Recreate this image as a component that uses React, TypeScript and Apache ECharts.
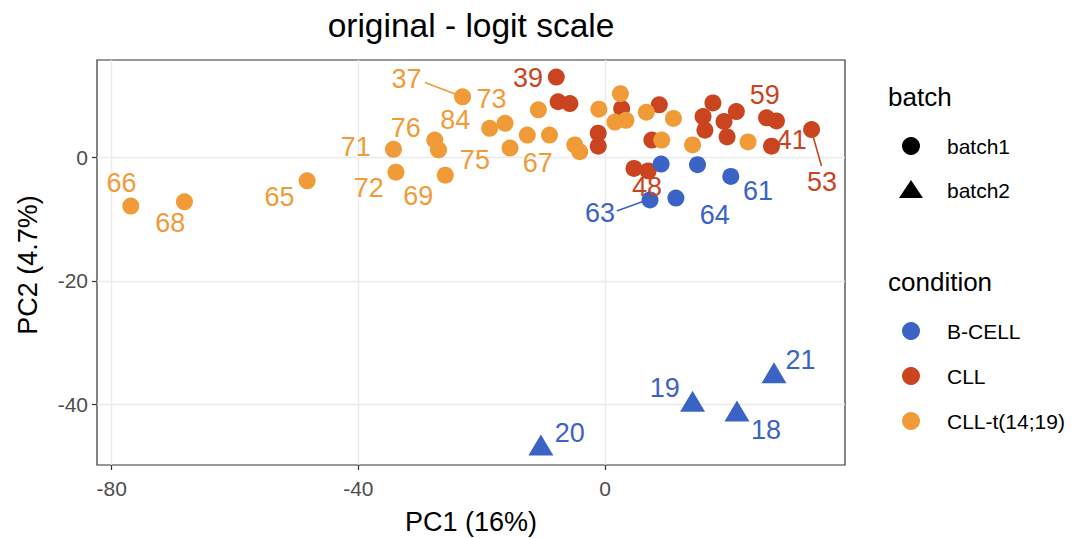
import { useEffect, useRef } from 'react';
import * as echarts from 'echarts';

// PCA scores (PC1, PC2) per condition and batch
const cllBatch1: [number, number][] = [
  [-7.9, 13.0], [-7.6, 9.0], [-5.7, 8.7], [-1.1, 3.9], [-1.1, 1.8],
  [2.7, 7.9], [8.8, 8.5], [7.6, 2.8], [17.5, 8.8], [15.9, 6.6],
  [16.2, 4.4], [19.3, 5.8], [19.8, 3.3], [21.3, 7.4], [26.2, 6.4],
  [27.8, 5.9], [27.0, 1.8], [33.5, 4.5], [4.7, -1.8], [7.0, -2.2],
];

const cllT1419Batch1: [number, number][] = [
  [-76.9, -7.9], [-68.2, -7.2], [-48.3, -3.8], [-34.3, 1.3], [-33.9, -2.4],
  [-27.6, 2.8], [-27.0, 1.2], [-25.9, -2.9], [-23.1, 9.8], [-18.7, 4.7],
  [-16.2, 5.5], [-15.4, 1.5], [-12.6, 3.6], [-10.8, 7.7], [-9.0, 3.6],
  [-4.9, 2.0], [-4.1, 0.9], [-1.0, 7.8], [2.5, 10.3], [1.6, 5.7],
  [3.4, 6.0], [6.7, 7.3], [11.1, 6.3], [9.2, 2.8], [14.2, 2.0],
  [23.2, 2.5],
];

const bCellBatch1: [number, number][] = [
  [9.1, -1.1], [15.0, -1.2], [20.4, -3.1], [11.5, -6.6], [7.3, -6.9],
];

const bCellBatch2: [number, number][] = [
  [-10.4, -46.6], [14.2, -39.5], [21.4, -41.1], [27.4, -34.9],
];

const conditions = ['B-CELL', 'CLL', 'CLL-t(14;19)'];
const conditionColors = ['#3b63c6', '#c9441f', '#f09b37'];
const batches = ['batch1', 'batch2'];

// Sample ids placed by the label repulsion: [id, PC1, PC2, condition index]
const sampleLabels: [string, number, number, number][] = [
  ['66', -78.4, -4.2, 2], ['68', -70.5, -10.7, 2], ['65', -52.8, -6.4, 2],
  ['71', -40.4, 1.6, 2], ['72', -38.3, -5.0, 2], ['76', -32.3, 4.8, 2],
  ['84', -24.3, 6.1, 2], ['73', -18.4, 9.4, 2], ['37', -32.2, 12.7, 2],
  ['75', -21.1, -0.4, 2], ['69', -30.3, -6.2, 2], ['67', -10.9, -0.9, 2],
  ['39', -12.5, 12.8, 1], ['48', 6.8, -4.8, 1], ['59', 25.9, 10.1, 1],
  ['41', 30.3, 2.8, 1], ['53', 35.2, -4.0, 1],
  ['63', -0.8, -9.0, 0], ['64', 17.8, -9.3, 0], ['61', 24.8, -5.4, 0],
  ['19', 9.7, -37.4, 0], ['20', -5.7, -44.6, 0], ['18', 26.1, -44.1, 0],
  ['21', 31.7, -32.8, 0],
];

// Leader segments from a label to its sample: [x1, y1, x2, y2, condition index]
const repelSegments: [number, number, number, number, number][] = [
  [-29.2, 12.1, -24.2, 10.2, 2],
  [33.8, 3.2, 35.1, -1.4, 1],
  [1.9, -8.7, 6.6, -7.0, 0],
];

const xTicks = [-80, -40, 0];
const yTicks = [0, -20, -40];
const xRange = [-82.38, 38.92];
const yRange = [-49.83, 15.76];

const FONT = '"Liberation Sans", Arial, Helvetica, sans-serif';

export default function App() {
  const ref = useRef<HTMLDivElement>(null);

  useEffect(() => {
    if (!ref.current) return;
    const chart = echarts.init(ref.current, undefined, { renderer: 'svg' });

    const gridLeft = 97;
    const gridTop = 60;
    const gridWidth = 748;
    const gridHeight = 405;
    const panelCx = gridLeft + gridWidth / 2;

    const pointSeries = (
      data: [number, number][],
      cond: number,
      symbol: string,
      size: number | number[],
    ) => ({
      type: 'scatter',
      data,
      symbol,
      symbolSize: size,
      itemStyle: { color: conditionColors[cond], opacity: 1 },
      z: 3,
      silent: true,
    });

    const segmentSeries = repelSegments.map(([x1, y1, x2, y2, c]) => ({
      type: 'line',
      data: [[x1, y1], [x2, y2]],
      showSymbol: false,
      symbol: 'none',
      lineStyle: { color: conditionColors[c], width: 1.6 },
      z: 4,
      silent: true,
    }));

    const legendX = 888;
    const keyX = 911;
    const textX = 947;
    const legendText = (text: string, y: number, size: number) => ({
      type: 'text',
      x: size > 22 ? legendX : textX,
      y,
      style: {
        text,
        fill: '#000',
        font: `${size}px ${FONT}`,
        textAlign: 'left',
        textVerticalAlign: 'middle',
      },
    });

    const axisBase = {
      type: 'value',
      axisLine: { show: false, onZero: false },
      splitLine: { show: false },
    };

    chart.setOption({
      animation: false,
      backgroundColor: '#fff',
      grid: {
        left: gridLeft,
        top: gridTop,
        width: gridWidth,
        height: gridHeight,
        show: true,
        borderColor: '#333',
        borderWidth: 1.2,
        backgroundColor: 'transparent',
      },
      xAxis: {
        ...axisBase,
        position: 'bottom',
        min: xRange[0],
        max: xRange[1],
        axisTick: { show: true, customValues: xTicks, length: 5, lineStyle: { color: '#333', width: 1.2 } },
        axisLabel: {
          customValues: xTicks,
          color: '#4d4d4d',
          fontSize: 21,
          fontFamily: FONT,
          margin: 13,
        },
      },
      yAxis: {
        ...axisBase,
        position: 'left',
        min: yRange[0],
        max: yRange[1],
        axisTick: { show: true, customValues: yTicks, length: 5, lineStyle: { color: '#333', width: 1.2 } },
        axisLabel: {
          customValues: yTicks,
          color: '#4d4d4d',
          fontSize: 21,
          fontFamily: FONT,
          margin: 9,
        },
      },
      graphic: [
        {
          type: 'text',
          x: panelCx,
          y: 25,
          style: {
            text: 'original - logit scale',
            fill: '#000',
            font: `33.5px ${FONT}`,
            textAlign: 'center',
            textVerticalAlign: 'middle',
          },
        },
        {
          type: 'text',
          x: panelCx,
          y: 522,
          style: {
            text: 'PC1 (16%)',
            fill: '#000',
            font: `27px ${FONT}`,
            textAlign: 'center',
            textVerticalAlign: 'middle',
          },
        },
        {
          type: 'text',
          x: 28,
          y: 265,
          rotation: Math.PI / 2,
          style: {
            text: 'PC2 (4.7%)',
            fill: '#000',
            font: `27px ${FONT}`,
            textAlign: 'center',
            textVerticalAlign: 'middle',
          },
        },
        legendText('batch', 97, 26),
        { type: 'circle', shape: { cx: keyX, cy: 146, r: 9 }, style: { fill: '#000' } },
        legendText(batches[0], 146, 21),
        {
          type: 'polygon',
          shape: { points: [[keyX, 180], [keyX + 12, 198], [keyX - 12, 198]] },
          style: { fill: '#000' },
        },
        legendText(batches[1], 190, 21),
        legendText('condition', 282, 26),
        ...conditions.flatMap((c, i) => {
          const y = 331 + i * 45;
          return [
            { type: 'circle', shape: { cx: keyX, cy: y, r: 9 }, style: { fill: conditionColors[i] } },
            legendText(c, y, 21),
          ];
        }),
      ],
      series: [
        {
          type: 'scatter',
          data: [],
          silent: true,
          z: 0,
          markLine: {
            silent: true,
            z: 0,
            symbol: ['none', 'none'],
            label: { show: false },
            emphasis: { disabled: true },
            lineStyle: { color: '#ebebeb', width: 1.4, type: 'solid' },
            data: [
              ...xTicks.map((v) => ({ xAxis: v })),
              ...yTicks.map((v) => ({ yAxis: v })),
            ],
          },
        },
        pointSeries(cllBatch1, 1, 'circle', 17),
        pointSeries(cllT1419Batch1, 2, 'circle', 17),
        pointSeries(bCellBatch1, 0, 'circle', 17),
        pointSeries(bCellBatch2, 0, 'triangle', [25, 21]),
        ...segmentSeries,
        {
          type: 'scatter',
          symbolSize: 2,
          itemStyle: { color: 'rgba(0,0,0,0)', opacity: 1 },
          z: 5,
          silent: true,
          data: sampleLabels.map(([id, x, y, c]) => ({
            value: [x, y],
            name: id,
            label: { color: conditionColors[c] },
          })),
          label: {
            show: true,
            position: 'inside',
            formatter: '{b}',
            fontSize: 27,
            fontFamily: FONT,
            opacity: 1,
            textBorderWidth: 0,
          },
        },
      ],
    });

    return () => chart.dispose();
  }, []);

  return (
    <div
      ref={ref}
      style={{ position: 'fixed', left: 0, top: 0, width: 1073, height: 538, background: '#fff' }}
    />
  );
}
